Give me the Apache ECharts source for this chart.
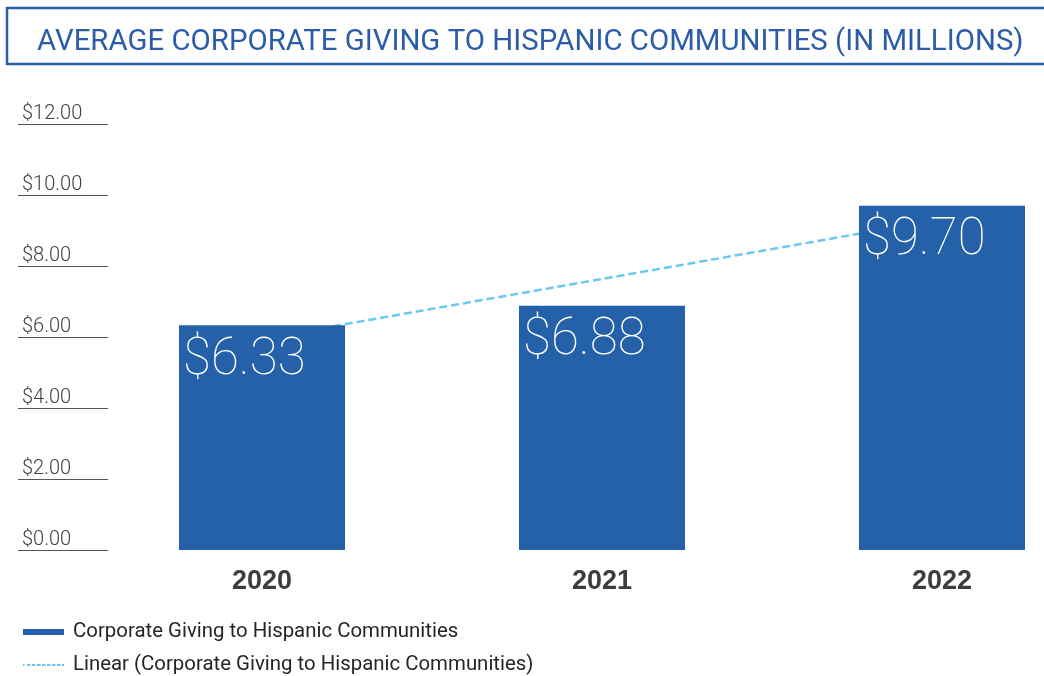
<!DOCTYPE html>
<html>
<head>
<meta charset="utf-8">
<script src="https://cdn.jsdelivr.net/npm/echarts@6/dist/echarts.min.js"></script>
<style>
  html, body { margin: 0; padding: 0; background: #ffffff; }
  #chart { width: 1044px; height: 676px; }
</style>
</head>
<body>
<div id="chart"></div>
<script>
// Average corporate giving (USD millions) per year
const years = ['2020', '2021', '2022'];
const givingValues = [6.33, 6.88, 9.70];
// Linear trendline end points at 2020 and 2022 (middle left open, joined across)
const trendValues = [5.95, null, 9.32];
const yTicks = { min: 0, max: 12, interval: 2 };

const BLUE = '#2561a9';
const TREND = '#6cc8ee';
const seriesName = 'Corporate Giving to Hispanic Communities';
const trendName = 'Linear (Corporate Giving to Hispanic Communities)';

// small dashed stroke used as the trendline legend key
const dashIcon = 'path://M0,0h1.5v2h-1.5zM4,0h3.5v2h-3.5zM9,0h3.5v2h-3.5zM14,0h3.5v2h-3.5zM19,0h3.5v2h-3.5zM24,0h3.5v2h-3.5zM29,0h3.5v2h-3.5zM34,0h3.5v2h-3.5zM39,0h2v2h-2z';

const chart = echarts.init(document.getElementById('chart'), null, { renderer: 'canvas' });

const plotTop = 124, plotHeight = 426;

chart.setOption({
  animation: false,
  backgroundColor: '#ffffff',
  title: {
    text: 'AVERAGE CORPORATE GIVING TO HISPANIC COMMUNITIES (IN MILLIONS)',
    left: 32,
    top: 23,
    textStyle: {
      fontFamily: 'Roboto',
      fontSize: 29.4,
      fontWeight: 400,
      color: '#2a5caa'
    }
  },
  graphic: [{
    type: 'rect',
    shape: { x: 7, y: 8, width: 1100, height: 56 },
    style: { fill: 'none', stroke: '#2a5caa', lineWidth: 2.5 },
    silent: true
  }],
  legend: [{
    data: [{ name: seriesName, icon: 'rect' }],
    orient: 'vertical',
    left: 18,
    top: 617,
    itemWidth: 41,
    itemHeight: 6,
    textStyle: { fontFamily: 'Roboto', fontSize: 20.4, color: '#262626', padding: [0, 0, 0, 4] }
  }, {
    data: [{ name: trendName, icon: dashIcon }],
    orient: 'vertical',
    left: 18,
    top: 650,
    itemWidth: 41,
    itemHeight: 2,
    itemStyle: { color: TREND },
    textStyle: { fontFamily: 'Roboto', fontSize: 20.4, color: '#262626', padding: [0, 0, 0, 4] }
  }],
  grid: [
    { left: 92, width: 1020, top: plotTop, height: plotHeight, outerBoundsMode: 'none' },
    { left: 18, width: 90, top: plotTop, height: plotHeight, outerBoundsMode: 'none' }
  ],
  xAxis: [{
    type: 'category',
    gridIndex: 0,
    data: years,
    axisLine: { show: false },
    axisTick: { show: false },
    axisLabel: {
      margin: 18,
      fontFamily: 'Liberation Sans',
      fontWeight: 'bold',
      fontSize: 27,
      color: '#3d3d3d'
    }
  }, {
    type: 'value',
    gridIndex: 1,
    show: false
  }],
  yAxis: [{
    type: 'value',
    gridIndex: 0,
    min: yTicks.min, max: yTicks.max, interval: yTicks.interval,
    axisLabel: { show: false },
    axisLine: { show: false },
    axisTick: { show: false },
    splitLine: { show: false }
  }, {
    type: 'value',
    gridIndex: 1,
    min: yTicks.min, max: yTicks.max, interval: yTicks.interval,
    axisLine: { show: false },
    axisTick: { show: false },
    splitLine: { show: true, lineStyle: { color: '#555555', width: 1 } },
    axisLabel: {
      inside: true,
      margin: 4,
      verticalAlign: 'bottom',
      fontFamily: 'Roboto',
      fontWeight: 300,
      fontSize: 20,
      color: '#404040',
      formatter: v => '$' + v.toFixed(2)
    }
  }],
  series: [{
    name: trendName,
    type: 'line',
    xAxisIndex: 0,
    yAxisIndex: 0,
    data: trendValues,
    connectNulls: true,
    symbol: 'none',
    z: 1,
    lineStyle: { color: TREND, width: 2.5, type: [8, 4] },
    itemStyle: { color: TREND }
  }, {
    name: seriesName,
    type: 'bar',
    xAxisIndex: 0,
    yAxisIndex: 0,
    data: givingValues,
    barWidth: 166,
    z: 2,
    itemStyle: { color: BLUE },
    label: {
      show: true,
      position: 'insideTopLeft',
      distance: 5,
      offset: [-1, 5],
      fontFamily: 'Roboto',
      fontWeight: 100,
      fontSize: 51,
      color: '#ffffff',
      formatter: p => '$' + p.value.toFixed(2)
    }
  }]
});
</script>
</body>
</html>
